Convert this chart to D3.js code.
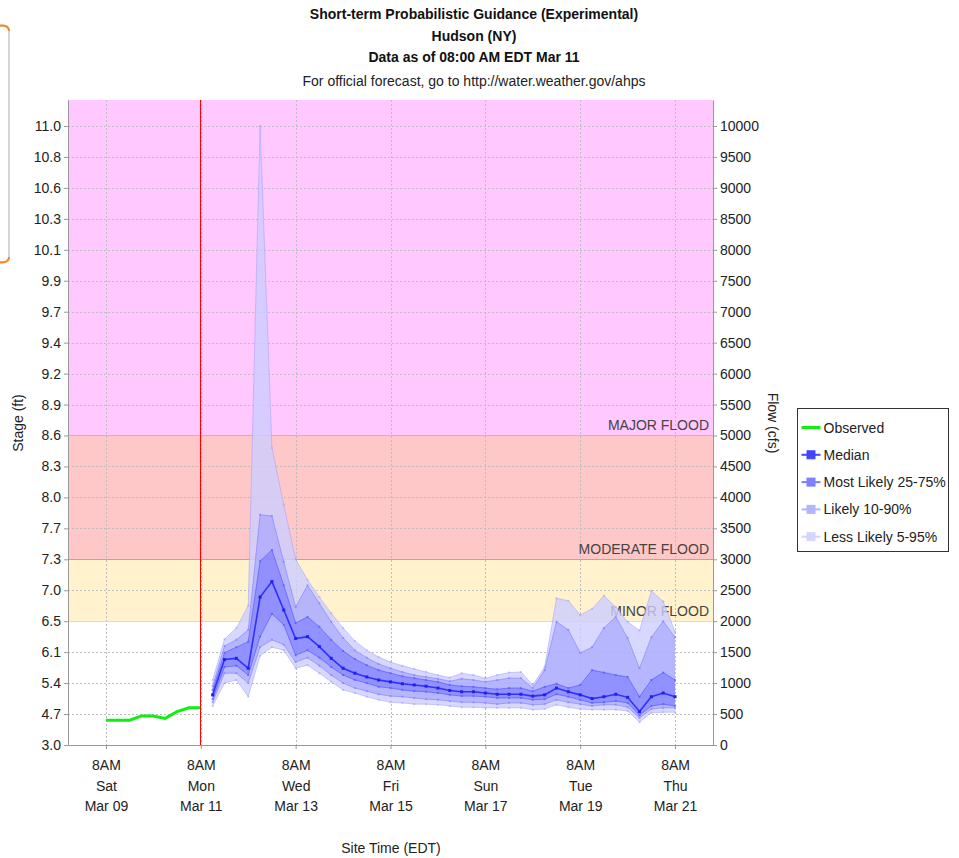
<!DOCTYPE html>
<html>
<head>
<meta charset="utf-8">
<script src="https://cdn.jsdelivr.net/npm/d3@7"></script>
<style>
  body { margin: 0; background: #fff; }
  svg { font-family: "Liberation Sans", Arial, sans-serif; font-size: 14px; }
</style>
</head>
<body>
<svg id="chart" width="959" height="858"></svg>
<script>
// times (site time, stored as UTC so nothing shifts)
const HOUR = 3600 * 1000;
const obsStart = Date.UTC(2019, 2, 9, 8);
const fcStart = Date.UTC(2019, 2, 11, 14);
const nowTime = Date.UTC(2019, 2, 11, 8);
const stepHours = 6;

// observed flow (cfs), 6-hourly
const observed = [400, 400, 400, 470, 470, 430, 540, 600, 600];

// forecast percentiles (cfs), 6-hourly from Mar 11 2PM
const median = [810, 1380, 1400, 1240, 2390, 2640, 2180, 1720, 1750, 1590,
  1400, 1240, 1160, 1100, 1050, 1020, 990, 970, 950, 920,
  880, 860, 860, 840, 820, 820, 820, 790, 810, 920,
  860, 810, 750, 780, 820, 770, 540, 780, 840, 780];
const p75 = [890, 1490, 1580, 1670, 2970, 3150, 2580, 1970, 2070, 1910,
  1700, 1520, 1390, 1290, 1210, 1160, 1110, 1080, 1050, 1020,
  970, 950, 940, 920, 900, 920, 920, 870, 940, 990,
  920, 970, 1210, 1170, 1130, 1100, 780, 1050, 1170, 1050];
const p25 = [740, 1260, 1280, 1130, 1750, 2120, 1940, 1450, 1530, 1410,
  1260, 1130, 1050, 1000, 940, 920, 890, 870, 860, 840,
  810, 790, 790, 780, 760, 760, 760, 730, 740, 820,
  780, 730, 680, 690, 710, 680, 480, 630, 660, 630];
const p90 = [950, 1600, 1700, 1860, 3720, 3700, 2960, 2230, 2580, 2290,
  1990, 1730, 1530, 1410, 1310, 1240, 1180, 1130, 1100, 1070,
  1030, 1070, 1050, 1020, 1050, 1080, 1080, 920, 1210, 1990,
  1860, 1490, 1580, 1890, 2070, 1730, 1240, 1740, 2000, 1740];
const p10 = [690, 1160, 1160, 1000, 1580, 1700, 1620, 1340, 1410, 1280,
  1130, 1000, 920, 870, 820, 790, 780, 760, 740, 730,
  710, 690, 690, 680, 660, 680, 680, 650, 660, 730,
  690, 660, 630, 650, 650, 610, 440, 580, 600, 600];
const p95 = [1050, 1710, 1890, 2250, 10000, 4800, 3880, 3000, 2670, 2390,
  2130, 1890, 1680, 1530, 1420, 1340, 1280, 1230, 1180, 1130,
  1090, 1160, 1130, 1080, 1130, 1170, 1180, 970, 1260, 2370,
  2330, 2100, 2200, 2410, 2230, 1990, 1850, 2490, 2320, 1830];
const p5 = [630, 1000, 1050, 780, 1440, 1580, 1530, 1240, 1290, 1160,
  1020, 890, 840, 780, 730, 690, 680, 660, 660, 650,
  630, 610, 610, 600, 600, 600, 600, 570, 580, 650,
  610, 580, 570, 570, 570, 550, 370, 520, 530, 530];

// axes
const flowTicks = [0, 500, 1000, 1500, 2000, 2500, 3000, 3500, 4000, 4500, 5000,
  5500, 6000, 6500, 7000, 7500, 8000, 8500, 9000, 9500, 10000];
const stageLabels = ["3.0", "4.7", "5.4", "6.1", "6.5", "7.0", "7.3", "7.7", "8.0", "8.3", "8.6",
  "8.9", "9.2", "9.4", "9.7", "9.9", "10.1", "10.3", "10.6", "10.8", "11.0"];
const timeTicks = [9, 11, 13, 15, 17, 19, 21].map(d => Date.UTC(2019, 2, d, 8));

// flood categories
const floodNames = ["MINOR FLOOD", "MODERATE FLOOD", "MAJOR FLOOD"];
const floodFlows = [2000, 3000, 5000];

const titleLines = [
  "Short-term Probabilistic Guidance (Experimental)",
  "Hudson (NY)",
  "Data as of 08:00 AM EDT Mar 11"
];
const subtitle = "For official forecast, go to http://water.weather.gov/ahps";
const legendLabels = ["Observed", "Median", "Most Likely 25-75%", "Likely 10-90%", "Less Likely 5-95%"];

const margin = { top: 100, right: 246, bottom: 113, left: 68 };
const width = 959, height = 858;
const plotW = width - margin.left - margin.right;
const plotH = height - margin.top - margin.bottom;

const svg = d3.select("#chart");

const x = d3.scaleUtc()
  .domain([timeTicks[0] - 0.8 * 24 * HOUR, timeTicks[timeTicks.length - 1] + 0.8 * 24 * HOUR])
  .range([margin.left, margin.left + plotW]);
const y = d3.scaleLinear()
  .domain([0, 10420])
  .range([margin.top + plotH, margin.top]);

const obsData = observed.map((v, i) => ({ t: obsStart + i * stepHours * HOUR, v }));
const fcData = median.map((v, i) => ({
  t: fcStart + i * stepHours * HOUR,
  med: v, p75: p75[i], p25: p25[i], p90: p90[i], p10: p10[i], p95: p95[i], p5: p5[i]
}));

// left page artifact (cut-off popup box)
svg.append("path")
  .attr("d", "M-20,26 H3 Q9,26 9,32 V256 Q9,262 3,262 H-20")
  .attr("fill", "none").attr("stroke", "#c4c8d0").attr("stroke-width", 1.5);
svg.append("path").attr("d", "M0,25.5 H3 Q9,26 9,31").attr("fill", "none")
  .attr("stroke", "#f08a24").attr("stroke-width", 2);
svg.append("path").attr("d", "M9,257 Q9,262 3,262.5 H0").attr("fill", "none")
  .attr("stroke", "#f08a24").attr("stroke-width", 2);

// titles
const titles = svg.append("g").attr("text-anchor", "middle");
titleLines.forEach((t, i) => {
  titles.append("text").attr("x", 474).attr("y", 19 + i * 21.5)
    .attr("font-weight", "bold").attr("fill", "#111").text(t);
});
titles.append("text").attr("x", 474).attr("y", 86).attr("fill", "#222").text(subtitle);

// flood zone backgrounds
const zoneColors = ["#fff2cc", "#ffc8c8", "#ffc8ff"];
const zoneLines = ["#f0dc9a", "#ee8f8f", "#ef9fbf"];
const yTop = y.domain()[1];
floodFlows.forEach((f, i) => {
  const hi = i < floodFlows.length - 1 ? floodFlows[i + 1] : yTop;
  svg.append("rect")
    .attr("x", margin.left).attr("width", plotW)
    .attr("y", y(hi)).attr("height", y(f) - y(hi))
    .attr("fill", zoneColors[i]);
});

// grid
const grid = svg.append("g").attr("stroke", "#bdbdbd").attr("stroke-dasharray", "2,2").attr("stroke-width", 1);
grid.selectAll("line.h").data(flowTicks.slice(1)).join("line")
  .attr("x1", margin.left).attr("x2", margin.left + plotW)
  .attr("y1", d => Math.round(y(d)) + 0.5).attr("y2", d => Math.round(y(d)) + 0.5);
grid.selectAll("line.v").data(timeTicks).join("line")
  .attr("y1", margin.top).attr("y2", margin.top + plotH)
  .attr("x1", d => Math.round(x(d)) + 0.5).attr("x2", d => Math.round(x(d)) + 0.5);

// flood lines + labels
floodFlows.forEach((f, i) => {
  svg.append("line")
    .attr("x1", margin.left).attr("x2", margin.left + plotW)
    .attr("y1", Math.round(y(f)) + 0.5).attr("y2", Math.round(y(f)) + 0.5)
    .attr("stroke", zoneLines[i]);
  svg.append("text")
    .attr("x", margin.left + plotW - 4).attr("y", y(f) - 5)
    .attr("text-anchor", "end").attr("fill", "#444").text(floodNames[i]);
});

// forecast bands: lightest first
const bands = [
  { lo: "p5", hi: "p95", fill: "rgb(205,205,255)", op: 0.8, edge: "rgba(150,150,255,0.45)" },
  { lo: "p10", hi: "p90", fill: "rgb(150,150,255)", op: 0.5, edge: "rgba(120,120,255,0.55)" },
  { lo: "p25", hi: "p75", fill: "rgb(100,100,255)", op: 0.45, edge: "rgba(80,80,255,0.6)" }
];
const line = key => d3.line().x(d => x(d.t)).y(d => y(d[key]));
bands.forEach(b => {
  svg.append("path").datum(fcData)
    .attr("fill", b.fill).attr("fill-opacity", b.op)
    .attr("d", d3.area().x(d => x(d.t)).y0(d => y(d[b.lo])).y1(d => y(d[b.hi])));
  [b.lo, b.hi].forEach(k => {
    svg.append("path").datum(fcData)
      .attr("fill", "none").attr("stroke", b.edge).attr("stroke-width", 1)
      .attr("d", line(k));
    svg.append("g").selectAll("rect").data(fcData).join("rect")
      .attr("x", d => x(d.t) - 1).attr("y", d => y(d[k]) - 1)
      .attr("width", 2).attr("height", 2).attr("fill", b.edge);
  });
});
svg.append("path").datum(fcData)
  .attr("fill", "none").attr("stroke", "#3030ff").attr("stroke-width", 1.6)
  .attr("d", line("med"));
svg.append("g").selectAll("rect").data(fcData).join("rect")
  .attr("x", d => x(d.t) - 1.5).attr("y", d => y(d.med) - 1.5)
  .attr("width", 3).attr("height", 3).attr("fill", "#2020ee");

// observed
svg.append("path").datum(obsData)
  .attr("fill", "none").attr("stroke", "#11ee11").attr("stroke-width", 3)
  .attr("d", d3.line().x(d => x(d.t)).y(d => y(d.v)));

// axes
const styleAxis = g => {
  g.select(".domain").attr("stroke", "#999");
  g.selectAll(".tick line").attr("stroke", "#999");
  g.selectAll(".tick text").attr("fill", "#222").attr("font-size", 14).attr("font-family", "Liberation Sans, Arial, sans-serif");
};
svg.append("g")
  .attr("transform", `translate(${margin.left},0)`)
  .call(d3.axisLeft(y).tickValues(flowTicks).tickFormat((d, i) => stageLabels[i]).tickSize(4).tickSizeOuter(0).tickPadding(3))
  .call(styleAxis);
svg.append("g")
  .attr("transform", `translate(${margin.left + plotW},0)`)
  .call(d3.axisRight(y).tickValues(flowTicks).tickFormat(d3.format("d")).tickSize(4).tickSizeOuter(0).tickPadding(3))
  .call(styleAxis);
const xAxis = svg.append("g")
  .attr("transform", `translate(0,${margin.top + plotH})`)
  .call(d3.axisBottom(x).tickValues(timeTicks).tickFormat("").tickSize(4).tickSizeOuter(0))
  .call(styleAxis);
const fmtHour = d => d3.utcFormat("%-I%p")(d);
xAxis.selectAll(".tick").append("text")
  .attr("fill", "#222").attr("text-anchor", "middle")
  .attr("font-size", 14).attr("font-family", "Liberation Sans, Arial, sans-serif")
  .selectAll("tspan")
  .data(d => [fmtHour(d), d3.utcFormat("%a")(d), d3.utcFormat("%b %d")(d)])
  .join("tspan")
  .attr("x", 0).attr("y", (d, i) => 25 + i * 20.5)
  .text(d => d);

// "now" line on top
const nowX = Math.round(x(nowTime)) - 0.5;
svg.append("line")
  .attr("x1", nowX).attr("x2", nowX)
  .attr("y1", margin.top).attr("y2", margin.top + plotH)
  .attr("stroke", "red").attr("stroke-width", 1);

// axis titles
svg.append("text").attr("transform", "translate(23,423) rotate(-90)")
  .attr("text-anchor", "middle").attr("fill", "#222").text("Stage (ft)");
svg.append("text").attr("transform", "translate(768,423) rotate(90)")
  .attr("text-anchor", "middle").attr("fill", "#222").text("Flow (cfs)");
svg.append("text").attr("x", 391).attr("y", 853)
  .attr("text-anchor", "middle").attr("fill", "#222").text("Site Time (EDT)");

// legend
const legend = svg.append("g").attr("transform", "translate(797.5,408.5)");
legend.append("rect").attr("width", 151).attr("height", 143)
  .attr("fill", "#fff").attr("stroke", "#333");
const legendColors = ["#11ee11", "#4444ff", "#7f7fff", "#b3b3ff", "#d4d4ff"];
legendLabels.forEach((lab, i) => {
  const row = legend.append("g").attr("transform", `translate(0,${19 + i * 27.3})`);
  row.append("line").attr("x1", 4).attr("x2", 23).attr("y1", 0).attr("y2", 0)
    .attr("stroke", legendColors[i]).attr("stroke-width", i === 0 ? 3 : 2);
  if (i > 0) {
    row.append("rect").attr("x", 9.5).attr("y", -4).attr("width", 8).attr("height", 8)
      .attr("fill", legendColors[i]).attr("stroke", legendColors[i]);
  }
  row.append("text").attr("x", 26).attr("y", 5).attr("fill", "#222").text(lab);
});
</script>
</body>
</html>
